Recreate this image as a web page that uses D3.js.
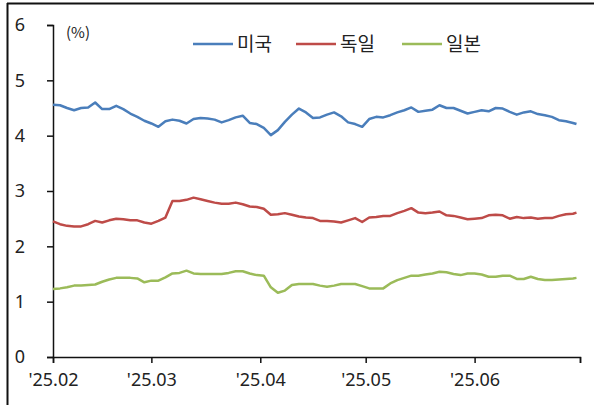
<!DOCTYPE html>
<html>
  <head>
    <meta charset="utf-8">
    <script type="text/javascript" src="https://d3js.org/d3.v7.min.js"></script>
    <style>
      body { margin: 0; background: #fff; }
      text { font-family: "Noto Sans CJK KR", "Noto Sans", sans-serif; fill: #222; }
      .tick text { font-family: "Noto Sans", "Open Sans", sans-serif; }
    </style>
  </head>
  <body>
  </body>
  <script>

  // dates (2025, month-day), read every other day off the picture
  var dates = ["02-01","02-03","02-05","02-07","02-09","02-11","02-13","02-15","02-17","02-19",
               "02-21","02-23","02-25","02-27","03-01","03-03","03-05","03-07","03-09","03-11",
               "03-13","03-15","03-17","03-19","03-21","03-23","03-25","03-27","03-29","03-31",
               "04-02","04-04","04-06","04-08","04-10","04-12","04-14","04-16","04-18","04-20",
               "04-22","04-24","04-26","04-28","04-30","05-02","05-04","05-06","05-08","05-10",
               "05-12","05-14","05-16","05-18","05-20","05-22","05-24","05-26","05-28","05-30",
               "06-01","06-03","06-05","06-07","06-09","06-11","06-13","06-15","06-17","06-19",
               "06-21","06-23","06-25","06-27","06-29","06-30"];

  var usValues = [4.56,4.55,4.50,4.46,4.50,4.51,4.60,4.48,4.48,4.54,
                  4.48,4.40,4.34,4.27,4.22,4.16,4.26,4.29,4.27,4.22,
                  4.30,4.32,4.31,4.29,4.24,4.28,4.33,4.36,4.23,4.21,
                  4.14,4.01,4.10,4.25,4.38,4.49,4.42,4.32,4.33,4.38,
                  4.42,4.35,4.24,4.21,4.16,4.30,4.34,4.33,4.37,4.42,
                  4.46,4.51,4.43,4.45,4.47,4.55,4.50,4.50,4.45,4.40,
                  4.43,4.46,4.44,4.50,4.49,4.43,4.38,4.42,4.44,4.39,
                  4.37,4.34,4.28,4.26,4.23,4.21];

  var deValues = [2.45,2.40,2.37,2.36,2.36,2.40,2.46,2.43,2.47,2.50,
                  2.49,2.47,2.47,2.43,2.41,2.46,2.52,2.82,2.82,2.84,
                  2.88,2.85,2.82,2.79,2.77,2.77,2.79,2.76,2.72,2.71,
                  2.68,2.57,2.58,2.60,2.57,2.54,2.52,2.51,2.46,2.46,
                  2.45,2.43,2.47,2.51,2.44,2.52,2.53,2.55,2.55,2.60,
                  2.64,2.69,2.61,2.60,2.61,2.63,2.56,2.55,2.52,2.49,
                  2.50,2.51,2.56,2.57,2.56,2.50,2.53,2.51,2.52,2.50,
                  2.51,2.51,2.55,2.58,2.59,2.61];

  var jpValues = [1.23,1.24,1.26,1.29,1.29,1.30,1.31,1.36,1.40,1.43,
                  1.43,1.43,1.42,1.35,1.38,1.38,1.44,1.51,1.52,1.56,
                  1.51,1.50,1.50,1.50,1.50,1.52,1.55,1.55,1.51,1.48,
                  1.47,1.26,1.16,1.20,1.30,1.32,1.32,1.32,1.29,1.27,
                  1.29,1.32,1.32,1.32,1.28,1.24,1.24,1.24,1.33,1.39,
                  1.43,1.47,1.47,1.49,1.51,1.54,1.53,1.50,1.48,1.51,
                  1.51,1.49,1.45,1.45,1.47,1.47,1.41,1.41,1.45,1.41,
                  1.39,1.39,1.40,1.41,1.42,1.43];

  var seriesNames = ["미국", "독일", "일본"];
  var seriesColors = ["#4a7ebb", "#be4b48", "#9bbb59"];
  var monthTicks = ["2025-02-01","2025-03-01","2025-04-01","2025-05-01","2025-06-01","2025-07-01"];
  var monthLabels = ["'25.02","'25.03","'25.04","'25.05","'25.06",""];
  var yTicks = [0, 1, 2, 3, 4, 5, 6];

  var parse = d3.timeParse("%Y-%m-%d");
  var xDates = dates.map(function(d) { return parse("2025-" + d); });
  var allValues = [usValues, deValues, jpValues];

  var svg = d3.select("body").append("svg")
              .attr("width", 594)
              .attr("height", 405);

  // frame of the cropped figure
  svg.append("line").attr("x1", 7).attr("x2", 594).attr("y1", 3.5).attr("y2", 3.5)
     .attr("stroke", "#111").attr("stroke-width", 2);
  svg.append("line").attr("x1", 7.5).attr("x2", 7.5).attr("y1", 3).attr("y2", 405)
     .attr("stroke", "#111").attr("stroke-width", 2);

  var x = d3.scaleTime()
            .domain([parse(monthTicks[0]), parse(monthTicks[monthTicks.length - 1])])
            .range([53, 580]);

  var y = d3.scaleLinear()
            .domain([0, 6])
            .range([357, 25]);

  var xAxis = svg.append("g")
                 .attr("transform", "translate(0,357)")
                 .call(d3.axisBottom(x)
                         .tickValues(monthTicks.map(parse))
                         .tickSize(6)
                         .tickPadding(10)
                         .tickFormat(function(d, i) { return monthLabels[i]; }));

  var yAxis = svg.append("g")
                 .attr("transform", "translate(53,0)")
                 .call(d3.axisLeft(y)
                         .tickValues(yTicks)
                         .tickSize(6)
                         .tickPadding(22)
                         .tickFormat(d3.format("d")));

  svg.selectAll(".domain").attr("stroke", "#111").attr("stroke-width", 1.5);
  svg.selectAll(".tick line").attr("stroke", "#111").attr("stroke-width", 1.5);
  xAxis.selectAll("text").style("font-size", "18px").attr("fill", "#333");
  yAxis.selectAll("text").style("font-size", "18px").attr("fill", "#333");

  var line = d3.line()
               .x(function(d, i) { return x(xDates[i]); })
               .y(function(d) { return y(d); });

  svg.selectAll(".series")
     .data(allValues)
     .enter()
     .append("path")
     .attr("class", "series")
     .attr("d", line)
     .attr("fill", "none")
     .attr("stroke", function(d, i) { return seriesColors[i]; })
     .attr("stroke-width", 2.5)
     .attr("stroke-linejoin", "round");

  svg.append("text")
     .attr("x", 66).attr("y", 38)
     .style("font-size", "15px")
     .text("(%)");

  // legend
  var legendX = [193, 296, 402];
  var legend = svg.selectAll(".legend")
                  .data(seriesNames)
                  .enter()
                  .append("g")
                  .attr("class", "legend")
                  .attr("transform", function(d, i) { return "translate(" + legendX[i] + ",44)"; });

  legend.append("line")
        .attr("x1", 0).attr("x2", 40)
        .attr("stroke", function(d, i) { return seriesColors[i]; })
        .attr("stroke-width", 2.5);

  legend.append("text")
        .attr("x", 44).attr("dy", "0.35em")
        .style("font-size", "19px")
        .text(function(d) { return d; });

  </script>
</html>
